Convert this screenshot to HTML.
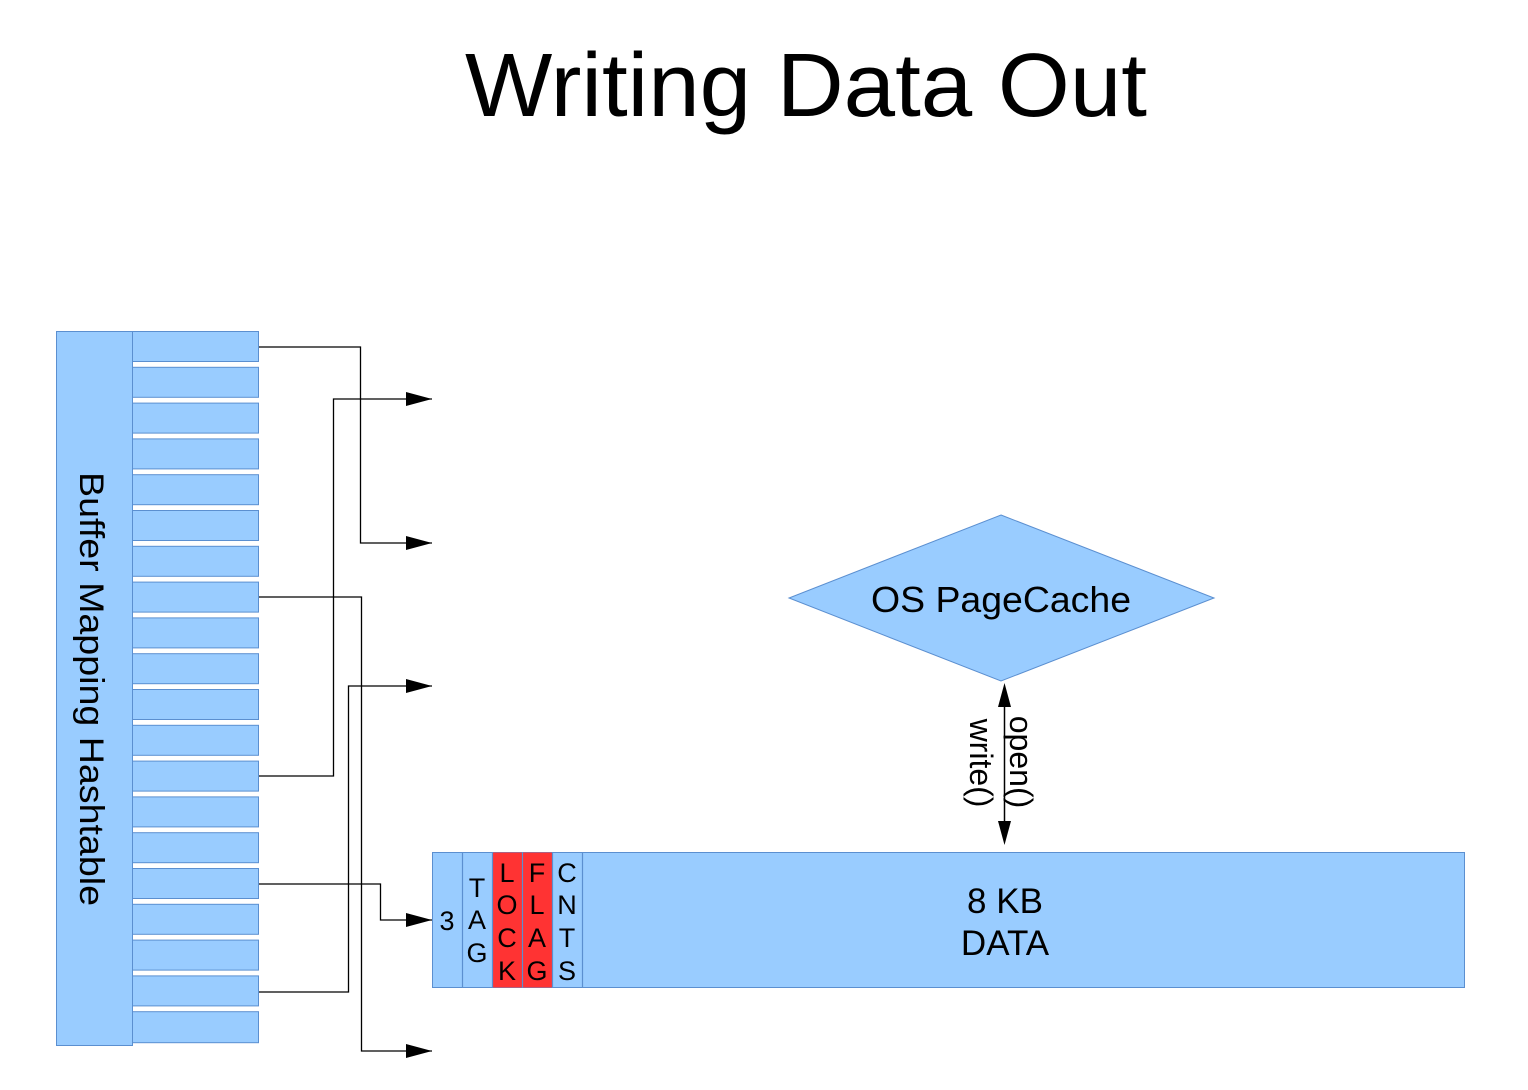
<!DOCTYPE html>
<html><head><meta charset="utf-8"><style>
html,body{margin:0;padding:0;background:#fff;}
svg{display:block;font-family:"Liberation Sans",sans-serif;}
</style></head><body>
<svg width="1528" height="1090" viewBox="0 0 1528 1090" xmlns="http://www.w3.org/2000/svg">
<defs>
<marker id="ah" markerWidth="26" markerHeight="14" refX="26" refY="7" orient="auto" markerUnits="userSpaceOnUse">
<path d="M0,0 L26,7 L0,14 Z" fill="#000"/>
</marker>
<marker id="ah2" markerWidth="14" markerHeight="24" refX="7" refY="24" orient="auto-start-reverse" markerUnits="userSpaceOnUse" viewBox="0 0 14 24">
<path d="M0,0 L7,24 L14,0 Z" fill="#000" transform="rotate(180 7 12)"/>
</marker>
</defs>
<text x="806" y="116" font-size="90" text-anchor="middle" textLength="682" lengthAdjust="spacingAndGlyphs">Writing Data Out</text>

<rect x="56.5" y="331.5" width="76" height="714" fill="#99ccff" stroke="#5b8fd0" stroke-width="1"/>
<text transform="translate(80 689) rotate(90)" font-size="34" text-anchor="middle" textLength="434" lengthAdjust="spacingAndGlyphs">Buffer Mapping Hashtable</text>

<g fill="#99ccff" stroke="#5b8fd0" stroke-width="1">
<rect x="132.5" y="331.5" width="126" height="30"/>
<rect x="132.5" y="367.3" width="126" height="30"/>
<rect x="132.5" y="403.1" width="126" height="30"/>
<rect x="132.5" y="438.9" width="126" height="30"/>
<rect x="132.5" y="474.7" width="126" height="30"/>
<rect x="132.5" y="510.5" width="126" height="30"/>
<rect x="132.5" y="546.3" width="126" height="30"/>
<rect x="132.5" y="582.1" width="126" height="30"/>
<rect x="132.5" y="617.9" width="126" height="30"/>
<rect x="132.5" y="653.7" width="126" height="30"/>
<rect x="132.5" y="689.5" width="126" height="30"/>
<rect x="132.5" y="725.3" width="126" height="30"/>
<rect x="132.5" y="761.1" width="126" height="30"/>
<rect x="132.5" y="796.9" width="126" height="30"/>
<rect x="132.5" y="832.7" width="126" height="30"/>
<rect x="132.5" y="868.5" width="126" height="30"/>
<rect x="132.5" y="904.3" width="126" height="30"/>
<rect x="132.5" y="940.1" width="126" height="30"/>
<rect x="132.5" y="975.9" width="126" height="30"/>
<rect x="132.5" y="1011.7" width="126" height="31"/>
</g>

<g fill="none" stroke="#000" stroke-width="1.3">
<polyline points="259,347 360.5,347 360.5,543 432,543" marker-end="url(#ah)"/>
<polyline points="259,776 333.5,776 333.5,399 432,399" marker-end="url(#ah)"/>
<polyline points="259,597 361.5,597 361.5,1051 432,1051" marker-end="url(#ah)"/>
<polyline points="259,884 380.5,884 380.5,920 432,920" marker-end="url(#ah)"/>
<polyline points="259,992 348.5,992 348.5,686 432,686" marker-end="url(#ah)"/>
</g>

<polygon points="1001,515 1214,598 1001,681 789,598" fill="#99ccff" stroke="#5b8fd0" stroke-width="1"/>
<text x="1001" y="612" font-size="36" text-anchor="middle" textLength="260" lengthAdjust="spacingAndGlyphs">OS PageCache</text>

<line x1="1004.5" y1="707" x2="1004.5" y2="822" stroke="#000" stroke-width="1.5"/>
<path d="M1004.5,683 L998,707 L1011,707 Z" fill="#000"/>
<path d="M1004.5,845 L998,821 L1011,821 Z" fill="#000"/>
<text transform="translate(1010 762) rotate(90)" font-size="32" text-anchor="middle">open()</text>
<text transform="translate(970 763) rotate(90)" font-size="32" text-anchor="middle">write()</text>

<rect x="432.5" y="852.5" width="1032" height="135" fill="#99ccff" stroke="#5b8fd0" stroke-width="1"/>
<rect x="492" y="852.5" width="60" height="135" fill="#ff3333"/>
<g stroke="#5b8fd0" stroke-width="1.2">
<line x1="462.5" y1="852" x2="462.5" y2="988"/>
<line x1="492.5" y1="852" x2="492.5" y2="988"/>
<line x1="522.5" y1="852" x2="522.5" y2="988"/>
<line x1="552.5" y1="852" x2="552.5" y2="988"/>
<line x1="582.5" y1="852" x2="582.5" y2="988"/>
</g>
<g font-size="27" text-anchor="middle">
<text x="447" y="930">3</text>
<text x="477" y="897">T</text><text x="477" y="929">A</text><text x="477" y="962">G</text>
<text x="507" y="882">L</text><text x="507" y="914">O</text><text x="507" y="947">C</text><text x="507" y="980">K</text>
<text x="537" y="882">F</text><text x="537" y="914">L</text><text x="537" y="947">A</text><text x="537" y="980">G</text>
<text x="567" y="882">C</text><text x="567" y="914">N</text><text x="567" y="947">T</text><text x="567" y="980">S</text>
</g>
<text x="1005" y="913" font-size="35" text-anchor="middle">8 KB</text>
<text x="1005" y="955" font-size="35" text-anchor="middle">DATA</text>
</svg>
</body></html>
